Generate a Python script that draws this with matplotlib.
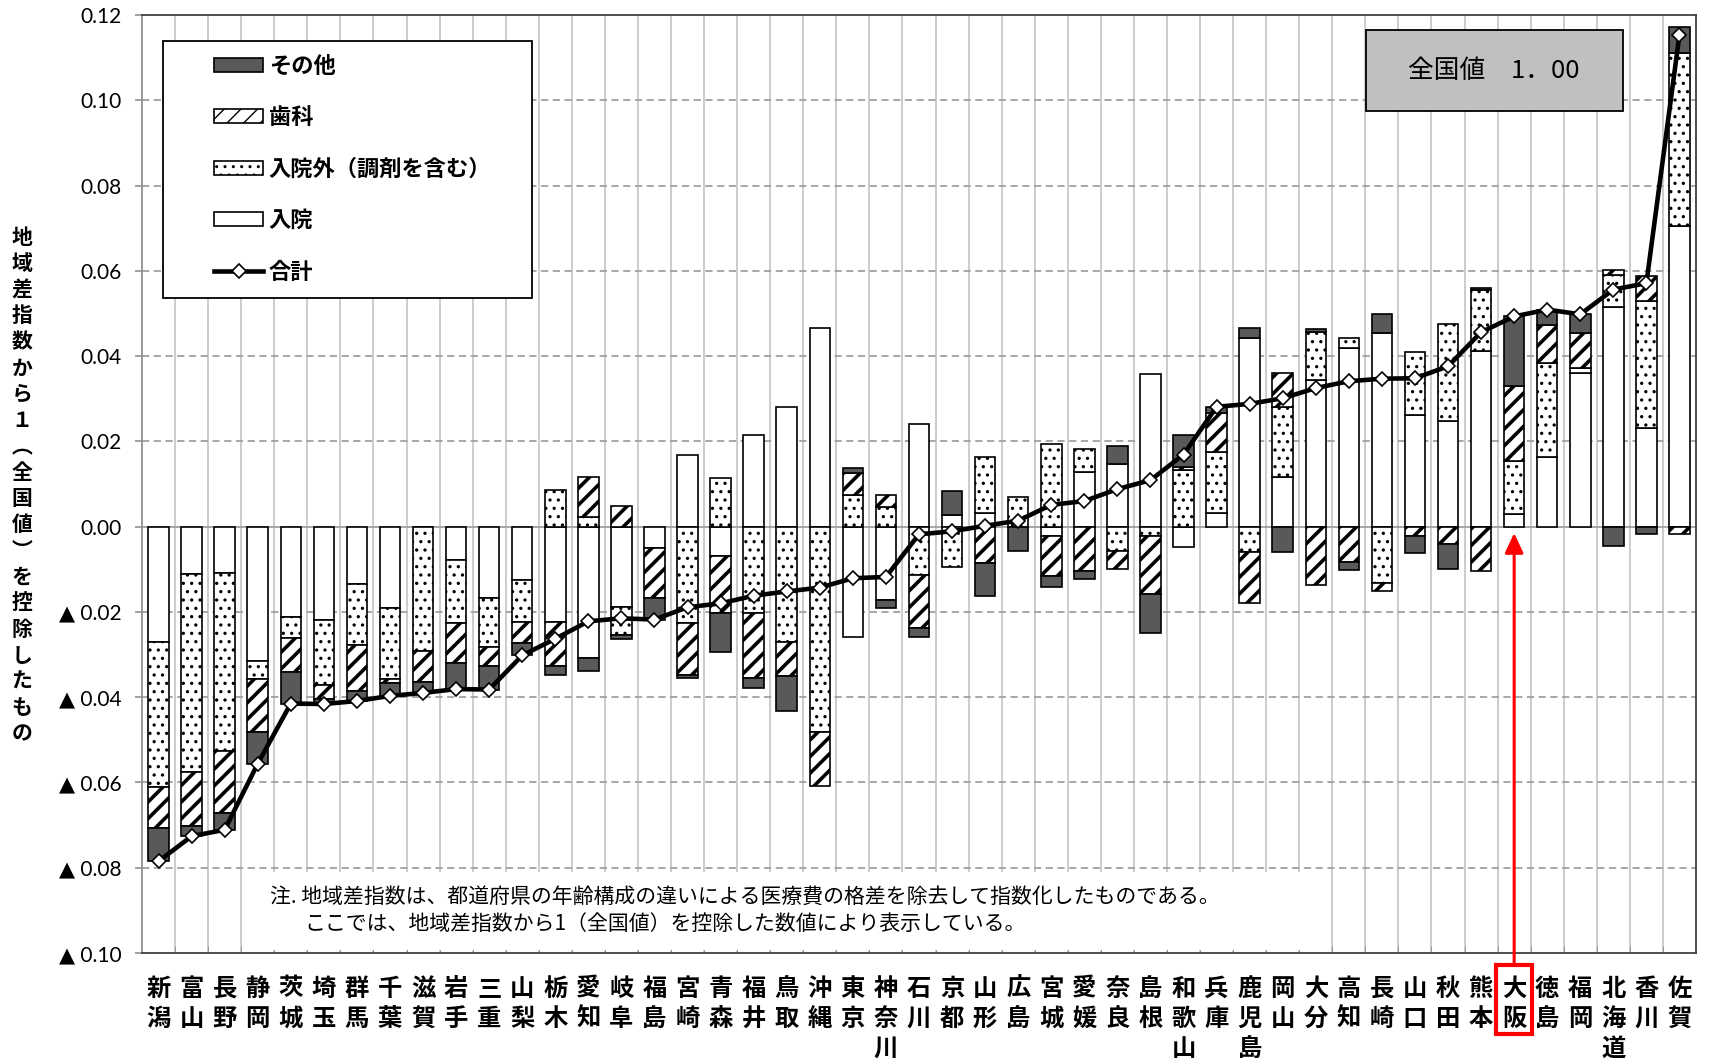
import numpy as np
import matplotlib
matplotlib.use('Agg')
import matplotlib.pyplot as plt
import matplotlib.patches as mpatches
from matplotlib.lines import Line2D
from matplotlib.ticker import FixedLocator

# ---------------- data ----------------
prefectures = ['新潟', '富山', '長野', '静岡', '茨城', '埼玉', '群馬', '千葉', '滋賀', '岩手',
               '三重', '山梨', '栃木', '愛知', '岐阜', '福島', '宮崎', '青森', '福井', '鳥取',
               '沖縄', '東京', '神奈川', '石川', '京都', '山形', '広島', '宮城', '愛媛', '奈良',
               '島根', '和歌山', '兵庫', '鹿児島', '岡山', '大分', '高知', '長崎', '山口', '秋田',
               '熊本', '大阪', '徳島', '福岡', '北海道', '香川', '佐賀']

nyuin = [-0.0271, -0.0112, -0.0108, -0.0315, -0.0212, -0.0218, -0.0134, -0.0190, -0.0002, -0.0078,
         -0.0167, -0.0124, -0.0224, -0.0309, -0.0188, -0.0051, 0.0167, -0.0070, 0.0216, 0.0281,
         0.0466, -0.0258, -0.0172, 0.0240, 0.0027, 0.0033, 0.0000, -0.0023, 0.0127, 0.0147,
         0.0358, -0.0047, 0.0033, 0.0443, 0.0117, 0.0344, 0.0418, 0.0453, 0.0263, 0.0248,
         0.0411, 0.0029, 0.0163, 0.0360, 0.0516, 0.0231, 0.0704]

nyuingai = [-0.0340, -0.0463, -0.0419, -0.0043, -0.0050, -0.0153, -0.0144, -0.0168, -0.0290, -0.0147,
            -0.0116, -0.0100, 0.0086, 0.0023, -0.0066, 0.0000, -0.0227, 0.0113, -0.0203, -0.0270,
            -0.0481, 0.0074, 0.0045, -0.0113, -0.0094, 0.0131, 0.0070, 0.0193, 0.0055, -0.0056,
            -0.0023, 0.0134, 0.0143, -0.0060, 0.0164, 0.0112, 0.0025, -0.0133, 0.0147, 0.0227,
            0.0145, 0.0126, 0.0220, 0.0013, 0.0074, 0.0298, 0.0407]

shika = [-0.0096, -0.0126, -0.0145, -0.0123, -0.0079, -0.0033, -0.0108, -0.0009, -0.0072, -0.0096,
         -0.0043, -0.0050, -0.0102, 0.0094, 0.0049, -0.0116, -0.0121, -0.0133, -0.0152, -0.0080,
         -0.0128, 0.0051, 0.0029, -0.0125, 0.0000, -0.0086, 0.0000, -0.0092, -0.0105, -0.0044,
         -0.0135, 0.0006, 0.0091, -0.0118, 0.0080, -0.0138, -0.0084, -0.0018, -0.0023, -0.0041,
         -0.0103, 0.0176, 0.0091, 0.0080, 0.0012, 0.0059, -0.0017]

sonota = [-0.0078, -0.0025, -0.0039, -0.0075, -0.0074, -0.0012, -0.0023, -0.0030, -0.0026, -0.0060,
          -0.0056, -0.0028, -0.0023, -0.0030, -0.0010, -0.0051, -0.0008, -0.0090, -0.0023, -0.0083,
          0.0000, 0.0012, -0.0020, -0.0020, 0.0056, -0.0076, -0.0056, -0.0027, -0.0017, 0.0041,
          -0.0091, 0.0076, 0.0014, 0.0023, -0.0060, 0.0007, -0.0018, 0.0045, -0.0039, -0.0058,
          0.0003, 0.0162, 0.0035, 0.0045, -0.0046, -0.0017, 0.0060]

series_labels = ['入院', '入院外（調剤を含む）', '歯科', 'その他']
total_label = '合計'
yticks = [0.12, 0.10, 0.08, 0.06, 0.04, 0.02, 0.00, -0.02, -0.04, -0.06, -0.08, -0.10]
ylabel_text = '地域差指数から１︵全国値︶を控除したもの'
national_text = '全国値　1．00'
note_lines = ['注. 地域差指数は、都道府県の年齢構成の違いによる医療費の格差を除去して指数化したものである。',
              'ここでは、地域差指数から1（全国値）を控除した数値により表示している。']
highlight = '大阪'

# ---------------- style ----------------
plt.rcParams['font.family'] = ['Noto Sans CJK JP', 'DejaVu Sans']
plt.rcParams['hatch.color'] = 'black'

W, H = 1710, 1060
fig = plt.figure(figsize=(W / 100, H / 100), dpi=100)


def fx(px):
    return px / W


def fy(py):
    return 1 - py / H


ax = fig.add_axes([fx(142), fy(953), (1696 - 142) / W, (953 - 15) / H])

x = np.arange(len(prefectures))
comps = [np.array(nyuin), np.array(nyuingai), np.array(shika), np.array(sonota)]
styles = [dict(facecolor='white', hatch=None, hlw=1.0),
          dict(facecolor='white', hatch='..', hlw=1.15),
          dict(facecolor='white', hatch='//', hlw=2.6),
          dict(facecolor='#595959', hatch=None, hlw=1.0)]
bw = 0.62


def draw_bars(xs, heights, bottoms, st):
    with plt.rc_context({'hatch.linewidth': st['hlw']}):
        bars = ax.bar(xs, heights, bw, bottom=bottoms, facecolor=st['facecolor'], hatch=st['hatch'],
                      edgecolor='black', linewidth=1.2, zorder=3)
    for p in bars:
        if hasattr(p, 'set_hatch_linewidth'):
            p.set_hatch_linewidth(st['hlw'])
    return bars


pos_bottom = np.zeros(len(x))
neg_bottom = np.zeros(len(x))
for vals, st in zip(comps, styles):
    pos = np.where(vals > 0, vals, 0.0)
    neg = np.where(vals < 0, vals, 0.0)
    mp = pos > 0
    mn = neg < 0
    draw_bars(x[mp], pos[mp], pos_bottom[mp], st)
    draw_bars(x[mn], neg[mn], neg_bottom[mn], st)
    pos_bottom += pos
    neg_bottom += neg

total = comps[0] + comps[1] + comps[2] + comps[3]
ax.plot(x, total, color='black', lw=3.3, marker='D', ms=7.5, mfc='white', mec='black', mew=1.2, zorder=6)

ax.set_xlim(-0.5, len(x) - 0.5)
ax.set_ylim(-0.10, 0.12)

# grid
for b in np.arange(0.5, len(x) - 0.5, 1):
    ax.axvline(b, color='#c8c8c8', lw=1.3, zorder=1)
for v in yticks:
    if abs(v) > 1e-9 and abs(v - 0.12) > 1e-9 and abs(v + 0.10) > 1e-9:
        ax.axhline(v, color='#a0a0a0', lw=1.3, ls=(0, (4, 2.5)), zorder=1)
ax.axhline(0, color='#a0a0a0', lw=1.3, zorder=1)

# spines
for s in ['top', 'right', 'bottom']:
    ax.spines[s].set_color('#404040')
    ax.spines[s].set_linewidth(1.3)
ax.spines['left'].set_color('#909090')
ax.spines['left'].set_linewidth(1.3)

# y ticks
ax.yaxis.set_major_locator(FixedLocator(yticks))
ax.set_yticklabels([f'{v:.2f}' if v >= -1e-9 else f'▲ {abs(v):.2f}' for v in yticks],
                   fontsize=15, family=['Lato', 'DejaVu Sans'])
ax.tick_params(axis='y', length=5, width=1.2, color='#909090', pad=10)

# x ticks
ax.set_xticks(x)
ax.set_xticklabels(['\n'.join(p) for p in prefectures], fontsize=17.5, fontweight='bold',
                   linespacing=1.33, va='top')
ax.tick_params(axis='x', which='major', length=0, pad=17)
ax.xaxis.set_minor_locator(FixedLocator(np.arange(0.5, len(x) - 0.5, 1)))
ax.tick_params(axis='x', which='minor', direction='in', length=5, color='#909090')

# note box (white background)
ax.add_patch(mpatches.Rectangle((fx(245), fy(950)), (1315 - 245) / W, (950 - 872) / H,
                                transform=fig.transFigure, facecolor='white', edgecolor='none',
                                zorder=2, clip_on=False))
fig.text(fx(270), fy(896.5), note_lines[0], fontsize=15, ha='left', va='center')
fig.text(fx(304), fy(923.7), note_lines[1], fontsize=15, ha='left', va='center')

# legend frame and legend
ax.add_patch(mpatches.Rectangle((fx(162.5), fy(297.7)), (532 - 162.5) / W, (297.7 - 41.4) / H,
                                transform=fig.transFigure, facecolor='white', edgecolor='black',
                                linewidth=1.3, zorder=7, clip_on=False))
leg_styles = [styles[3], styles[2], styles[1], styles[0]]
handles = []
for st in leg_styles:
    with plt.rc_context({'hatch.linewidth': st['hlw']}):
        h = mpatches.Patch(facecolor=st['facecolor'], edgecolor='black', hatch=st['hatch'], lw=1.2)
    if hasattr(h, 'set_hatch_linewidth'):
        h.set_hatch_linewidth(st['hlw'])
    handles.append(h)
handles.append(Line2D([0], [0], color='black', lw=3.3, marker='D', ms=7.5, mfc='white', mec='black', mew=1.2))
labels = [series_labels[3], series_labels[2], series_labels[1], series_labels[0], total_label]
leg = ax.legend(handles, labels, loc='center left', bbox_to_anchor=(fx(203), fy(169.2)),
                bbox_transform=fig.transFigure, frameon=False, borderpad=0,
                prop={'size': 16, 'weight': 'bold'},
                labelspacing=1.28, handlelength=2.2, handleheight=0.6, handletextpad=0.25)
leg.set_zorder(8)

# national value box
ax.add_patch(mpatches.Rectangle((fx(1365.5), fy(111)), (1623 - 1365.5) / W, (111 - 30.5) / H,
                                transform=fig.transFigure, facecolor='#c0c0c0', edgecolor='black',
                                linewidth=1.3, zorder=7, clip_on=False))
fig.text(fx(1494), fy(70.7), national_text, fontsize=18.5, ha='center', va='center', zorder=8)

# y-axis title (vertical)
fig.text(fx(22), fy(485.5), '\n'.join(ylabel_text), fontsize=15, fontweight='bold',
         ha='center', va='center', linespacing=1.30)

# highlight arrow and box
hi = prefectures.index(highlight)
ax.annotate('', xy=(x[hi], -0.0015), xytext=(x[hi], -0.1025), xycoords='data', textcoords='data',
            arrowprops=dict(arrowstyle='-|>,head_length=0.6,head_width=0.28', color='red', lw=2.2,
                            mutation_scale=20, shrinkA=0, shrinkB=0),
            annotation_clip=False, zorder=9)
fig.patches.append(mpatches.Rectangle((fx(1496), fy(1034)), (1532 - 1496) / W, (1034 - 965) / H,
                                      transform=fig.transFigure, facecolor='none', edgecolor='red',
                                      linewidth=3.0, zorder=10))

fig.savefig('out.png', dpi=100)
